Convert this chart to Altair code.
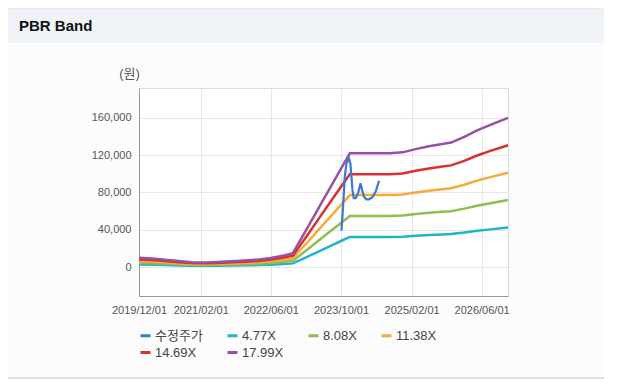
import altair as alt
import pandas as pd

# ---- data ----
band_dates = ["2019-12-01", "2020-03-01", "2020-06-01", "2020-09-01", "2020-12-01",
              "2021-03-01", "2021-06-01", "2021-09-01", "2021-12-01", "2022-03-01",
              "2022-06-01", "2022-09-01", "2022-11-01", "2023-02-01", "2023-05-01",
              "2023-08-01", "2023-10-01", "2023-12-01", "2024-03-01", "2024-06-01",
              "2024-09-01", "2024-12-01", "2025-03-01", "2025-06-01", "2025-09-01",
              "2025-11-01", "2026-02-01", "2026-05-01", "2026-08-01", "2026-12-01"]

band_477 = [2651, 2465, 2121, 1723, 1379, 1326, 1458, 1644, 1856, 2121, 2598, 3314, 3977,
            10471, 16966, 23594, 27968, 32342, 32342, 32342, 32342, 32607, 33535, 34330,
            34993, 35391, 36981, 38837, 40428, 42416]
band_808 = [4491, 4177, 3593, 2919, 2335, 2246, 2470, 2784, 3144, 3593, 4401, 5614, 6737,
            17739, 28742, 39970, 47380, 54790, 54790, 54790, 54790, 55239, 56811, 58159,
            59281, 59955, 62649, 65793, 68488, 71856]
band_1138 = [6326, 5883, 5061, 4112, 3290, 3163, 3479, 3922, 4428, 5061, 6199, 7908, 9489,
             24988, 40486, 56301, 66739, 77177, 77177, 77177, 77177, 77810, 80024, 81922,
             83503, 84452, 88248, 92676, 96472, 101216]
band_1469 = [8170, 7590, 6530, 5310, 4250, 4080, 4490, 5060, 5720, 6530, 8000, 10210, 12250,
             32260, 52260, 72680, 86150, 99630, 99630, 99630, 99630, 100440, 103300, 105750,
             107790, 109020, 113920, 119630, 124530, 130660]
band_1799 = [10000, 9300, 8000, 6500, 5200, 5000, 5500, 6200, 7000, 8000, 9800, 12500, 15000,
             39500, 64000, 89000, 105500, 122000, 122000, 122000, 122000, 123000, 126500,
             129500, 132000, 133500, 139500, 146500, 152500, 160000]

price_dates = ["2023-10-04", "2023-10-15", "2023-10-27", "2023-11-08", "2023-11-24",
               "2023-12-05", "2023-12-12", "2023-12-19", "2023-12-28", "2024-01-11",
               "2024-01-27", "2024-02-13", "2024-02-24", "2024-03-08", "2024-03-25",
               "2024-04-12", "2024-05-06", "2024-05-28", "2024-06-21"]
price = [39100, 64800, 96900, 111200, 116600, 111200, 96900, 82700, 73800, 73800,
         79100, 89800, 82700, 75500, 72700, 72700, 74900, 80900, 92600]

series_names = ["수정주가", "4.77X", "8.08X", "11.38X", "14.69X", "17.99X"]
series_colors = ["#3b78cf", "#1fb5c9", "#8cbf4f", "#f7a93a", "#d8302c", "#9a4fa6"]

y_ticks = [0, 40000, 80000, 120000, 160000]
x_ticks = ["2019-12-01", "2021-02-01", "2022-06-01", "2023-10-01", "2025-02-01", "2026-06-01"]

# ---- tables ----
rows = []
for name, vals in zip(series_names[1:], [band_477, band_808, band_1138, band_1469, band_1799]):
    for d, v in zip(band_dates, vals):
        rows.append({"date": d + "T00:00:00", "value": v, "series": name})
bands = pd.DataFrame(rows)
px = pd.DataFrame({"date": [d + "T00:00:00" for d in price_dates], "value": price,
                   "series": series_names[0]})


def dt(s):
    y, m, d = (int(p) for p in s.split("-"))
    return alt.DateTime(year=y, month=m, date=d)


FONT = "Liberation Sans, Noto Sans CJK KR, sans-serif"
PW, PH = 369, 208

color = alt.Color("series:N",
                  scale=alt.Scale(domain=series_names, range=series_colors),
                  legend=alt.Legend(title=None, orient="none", legendX=0, legendY=241,
                                    columns=4, direction="horizontal",
                                    symbolType="stroke", symbolSize=100,
                                    symbolStrokeWidth=3, labelFontSize=13,
                                    labelColor="#444", labelFont=FONT,
                                    columnPadding=18, rowPadding=3, labelOffset=3))

x_enc = alt.X("date:T",
              scale=alt.Scale(domain=[dt("2019-12-01"), dt("2026-12-01")]),
              axis=alt.Axis(values=[dt(s) for s in x_ticks], format="%Y/%m/%d",
                            title=None, labelFontSize=11, labelColor="#555",
                            labelFont=FONT, ticks=False, labelPadding=8,
                            gridColor="#e6e6e6", domainColor="#999",
                            labelOverlap=False, labelFlush=False))
y_enc = alt.Y("value:Q",
              scale=alt.Scale(domain=[-31000, 192000], nice=False, zero=False),
              axis=alt.Axis(values=y_ticks, format=",.0f", title="(원)", titleAngle=0,
                            titleX=-10, titleY=-15, titleAlign="center",
                            titleBaseline="middle", titleFontWeight="normal",
                            titleFontSize=13, titleColor="#555", titleFont=FONT,
                            labelFontSize=11, labelColor="#555", labelFont=FONT,
                            ticks=False, labelPadding=8, gridColor="#e6e6e6",
                            domainColor="#999"))

band_layer = alt.Chart(bands).mark_line(strokeWidth=2.5).encode(
    x=x_enc, y=y_enc, color=color, detail="series:N")
price_layer = alt.Chart(px).mark_line(strokeWidth=2.2).encode(
    x=x_enc, y=y_enc, color=color)

# page decorations: header band, title text, bottom rule
header = alt.Chart(pd.DataFrame({"t": ["PBR Band"]})).mark_rect(
    color="#eff3f8", strokeWidth=0).encode(
    x=alt.value(-134), x2=alt.value(465), y=alt.value(-81), y2=alt.value(-45))
header_line = alt.Chart(pd.DataFrame({"t": [0]})).mark_rule(color="#d4d4d4", strokeWidth=1.5).encode(
    x=alt.value(-134), x2=alt.value(465), y=alt.value(-80.5))
title = alt.Chart(pd.DataFrame({"t": ["PBR Band"]})).mark_text(
    align="left", baseline="middle", fontSize=15, fontWeight="bold",
    font="Liberation Sans, Noto Sans, sans-serif", color="#111").encode(
    text="t:N", x=alt.value(-120), y=alt.value(-62))
bottom_line = alt.Chart(pd.DataFrame({"t": [0]})).mark_rule(color="#d4d4d4", strokeWidth=1.5).encode(
    x=alt.value(-134), x2=alt.value(465), y=alt.value(290))

chart = alt.layer(header, header_line, title, bottom_line, band_layer, price_layer).properties(
    width=PW, height=PH,
    autosize=alt.AutoSizeParams(type="none"),
    padding={"left": 131, "top": 80, "right": 96, "bottom": 84},
    background="#fcfcfc",
).configure_view(fill="white", stroke="#dcdcdc")

chart.save("out.html", embed_options={"renderer": "svg", "actions": False})
